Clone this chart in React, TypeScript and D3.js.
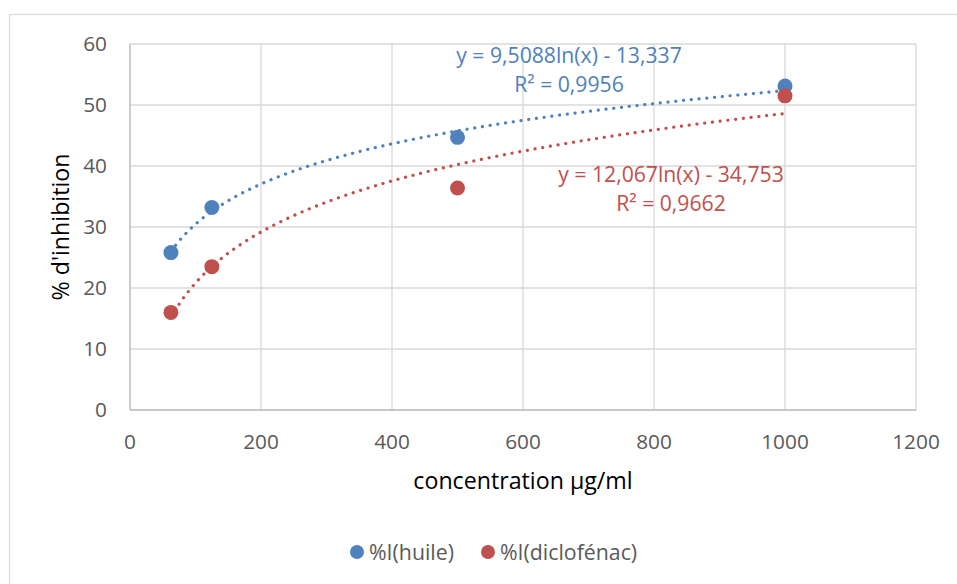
import React from "react";
import * as d3 from "d3";

// values
const concentrations = [62.5, 125, 500, 1000];
const huile = [25.8, 33.2, 44.7, 53.1];
const diclofenac = [16.0, 23.5, 36.4, 51.5];

const xTicks = [0, 200, 400, 600, 800, 1000, 1200];
const yTicks = [0, 10, 20, 30, 40, 50, 60];

// logarithmic trendlines as printed on the chart: y = a ln(x) + b
const huileFit = { a: 9.5088, b: -13.337 };
const diclofenacFit = { a: 12.067, b: -34.753 };

const huileEq = ["y = 9,5088ln(x) - 13,337", "R² = 0,9956"];
const diclofenacEq = ["y = 12,067ln(x) - 34,753", "R² = 0,9662"];

const BLUE = "#4f81bd";
const RED = "#c0504d";
const FONT = "'Open Sans', 'Noto Sans', sans-serif";

const WIDTH = 957;
const HEIGHT = 584;
const PLOT = { left: 130, right: 916, top: 44, bottom: 410 };

export default function App() {
  const xScale = d3.scaleLinear().domain([0, 1200]).range([PLOT.left, PLOT.right]);
  const yScale = d3.scaleLinear().domain([0, 60]).range([PLOT.bottom, PLOT.top]);

  const [xMin, xMax] = d3.extent(concentrations) as [number, number];
  const samples = d3.range(0, 201).map((i) => xMin * Math.pow(xMax / xMin, i / 200));

  const trend = (fit: { a: number; b: number }) =>
    d3
      .line<number>()
      .x((x) => xScale(x))
      .y((x) => yScale(fit.a * Math.log(x) + fit.b))(samples) || "";

  const markers = (vals: number[], color: string) =>
    vals.map((v, i) => (
      <circle key={color + i} cx={xScale(concentrations[i])} cy={yScale(v)} r={7.5} fill={color} />
    ));

  return (
    <svg
      width={WIDTH}
      height={HEIGHT}
      style={{ position: "absolute", left: 0, top: 0, background: "#fff" }}
      fontFamily={FONT}
    >
      <rect x={9.5} y={14.5} width={WIDTH} height={HEIGHT} fill="#fff" stroke="#d9d9d9" strokeWidth={1.3} />

      {/* grid */}
      <g stroke="#d9d9d9" strokeWidth={1.3}>
        {yTicks.map((t) => (
          <line key={"gy" + t} x1={PLOT.left} x2={PLOT.right} y1={yScale(t)} y2={yScale(t)} />
        ))}
        {xTicks.map((t) => (
          <line key={"gx" + t} x1={xScale(t)} x2={xScale(t)} y1={PLOT.top} y2={PLOT.bottom} />
        ))}
      </g>
      <g stroke="#bfbfbf" strokeWidth={1.3}>
        <line x1={PLOT.left} x2={PLOT.right} y1={PLOT.bottom} y2={PLOT.bottom} />
        <line x1={PLOT.left} x2={PLOT.left} y1={PLOT.top} y2={PLOT.bottom} />
      </g>

      {/* tick labels */}
      <g fill="#595959" fontSize={20.8}>
        {yTicks.map((t) => (
          <text key={"ty" + t} x={107} y={yScale(t)} dy="0.35em" textAnchor="end">
            {t}
          </text>
        ))}
        {xTicks.map((t) => (
          <text key={"tx" + t} x={xScale(t)} y={449} textAnchor="middle">
            {t}
          </text>
        ))}
      </g>

      {/* axis titles */}
      <text x={(PLOT.left + PLOT.right) / 2} y={489} textAnchor="middle" fontSize={23.2} fill="#000">
        concentration µg/ml
      </text>
      <text
        transform={`translate(69,${(PLOT.top + PLOT.bottom) / 2}) rotate(-90)`}
        textAnchor="middle"
        fontSize={23.2}
        fill="#000"
      >
        % d'inhibition
      </text>

      {/* trendlines */}
      <g fill="none" strokeWidth={3.2} strokeLinecap="round" strokeDasharray="0.1 7.7">
        <path d={trend(huileFit)} stroke={BLUE} />
        <path d={trend(diclofenacFit)} stroke={RED} />
      </g>

      {markers(huile, BLUE)}
      {markers(diclofenac, RED)}

      {/* equations */}
      <g fontSize={21.2} textAnchor="middle">
        <text x={569} y={63} fill={BLUE}>{huileEq[0]}</text>
        <text x={569} y={92} fill={BLUE}>{huileEq[1]}</text>
        <text x={671} y={182} fill={RED}>{diclofenacEq[0]}</text>
        <text x={671} y={211} fill={RED}>{diclofenacEq[1]}</text>
      </g>

      {/* legend */}
      <g fontSize={21.3} fill="#595959">
        <circle cx={357} cy={552} r={7} fill={BLUE} />
        <text x={369} y={560}>%I(huile)</text>
        <circle cx={488} cy={552} r={7} fill={RED} />
        <text x={500} y={560}>%I(diclofénac)</text>
      </g>
    </svg>
  );
}
